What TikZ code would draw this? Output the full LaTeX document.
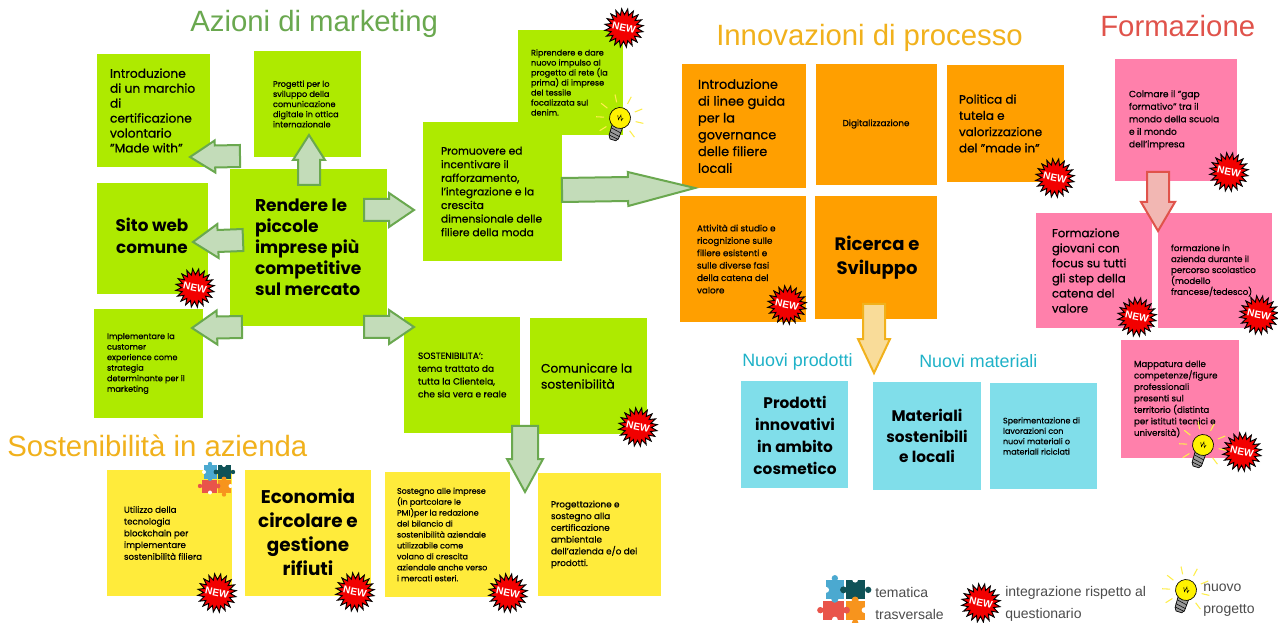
\documentclass[tikz,border=0pt]{standalone}
\usepackage{fontspec}
\setmainfont{Poppins}[UprightFeatures={FakeBold=0.7},BoldFeatures={FakeBold=0}]
\newfontfamily\titlefont{Liberation Sans}
\usetikzlibrary{shapes.geometric,shapes.misc,calc,arrows.meta}
\definecolor{cgreen}{HTML}{AEEA00}
\definecolor{corange}{HTML}{FF9F00}
\definecolor{cpink}{HTML}{FF80AB}
\definecolor{cblue}{HTML}{80DEEA}
\definecolor{cyellow}{HTML}{FFEB3B}
\definecolor{tgreen}{HTML}{6AA84F}
\definecolor{torange}{HTML}{F1B11C}
\definecolor{tred}{HTML}{E0534B}
\definecolor{tcyan}{HTML}{1FB2C8}
\definecolor{pzblue}{HTML}{4BA9D0}
\definecolor{pzteal}{HTML}{0F5257}
\definecolor{pzred}{HTML}{E9544A}
\definecolor{pzorange}{HTML}{F7941D}
\newcommand{\fs}[1]{\fontsize{#1}{#1}\selectfont}
\tikzset{
  card/.style={inner sep=0pt,outer sep=0pt,text=black,align=left},
  titletext/.style={inner sep=0pt,font=\titlefont\fs{22}},
  subtitle/.style={inner sep=0pt,font=\titlefont\fs{13.4},text=tcyan},
  legendtext/.style={inner sep=0pt,align=left,font=\titlefont\fontsize{10.5}{13.5}\selectfont,text=black!70},
  greenarrow/.style={draw=tgreen,line width=1.5pt,fill=tgreen!40!white,line join=miter},
  goldarrow/.style={draw=torange,line width=1.5pt,fill=torange!45!white},
  redarrow/.style={draw=tred,line width=1.5pt,fill=tred!42!white},
}
% card: name, x1, y1, x2, y2, colour, text x (px), font pt, leading, text
\newcommand{\card}[9]{%
  \fill[#6] (#2,#3) rectangle (#4,#5);
  \node[card,anchor=west,font=\fontsize{#8}{#9}\selectfont] (#1) at (#7,{(#3+#5)/2}) {\cardtext};}
\newcommand{\bcard}[9]{%
  \fill[#6] (#2,#3) rectangle (#4,#5);
  \node[card,anchor=west,font=\bfseries\fontsize{#8}{#9}\selectfont] (#1) at (#7,{(#3+#5)/2}) {\cardtext};}
\newcommand{\ccard}[9]{%
  \fill[#6] (#2,#3) rectangle (#4,#5);
  \node[card,align=center,font=\fontsize{#8}{#9}\selectfont] (#1) at (#7) {\cardtext};}
\newcommand{\hcard}[9]{%
  \fill[#6] (#2,#3) rectangle (#4,#5);
  \node[card,align=center,font=\bfseries\fontsize{#8}{#9}\selectfont] (#1) at (#7) {\cardtext};}
\newcommand{\blockarrow}[6]{% style, from, to, shaft half, head half, head length
  \pgfpointdiff{\pgfpointanchor{#2}{center}}{\pgfpointanchor{#3}{center}}%
  \pgfgetlastxy{\bax}{\bay}%
  \pgfmathsetmacro{\baang}{atan2(\bay,\bax)}%
  \pgfmathsetmacro{\balen}{veclen(\bax,\bay)/0.75}%
  \begin{scope}[shift={(#2)},rotate=\baang]
    \draw[#1] (0,-#4) -- ({\balen-#6},-#4) -- ({\balen-#6},-#5) -- (\balen,0) -- ({\balen-#6},#5) -- ({\balen-#6},#4) -- (0,#4) -- cycle;
  \end{scope}}
% NEW burst at a centre
\newcommand{\newburst}[2]{%
  \begin{scope}[shift={(#1,#2)}]
    \node[star,star points=20,star point ratio=1.45,minimum size=29pt,inner sep=0pt,fill=red!95!black,draw=black,line width=0.7pt,rotate=7] at (0,0) {};
    \node[inner sep=0pt,text=white,rotate=-12,font=\titlefont\bfseries\fs{7.6}] at (0,0) {NEW};
  \end{scope}}
% bulb at the centre of the glass
\newcommand{\bulb}[2]{%
  \begin{scope}[shift={(#1,#2)},rotate=-18]
    \foreach \a in {-50,-15,20,60,100,140,175,215}{
      \draw[yellow!90!orange!70!white,line width=0.8pt] (\a:-16) -- (\a:-24);}
    \fill[black!40,draw=black,line width=0.5pt] (-5.5,8) -- (5.5,8) -- (5,20) -- (3,23) -- (-3,23) -- (-5,20) -- cycle;
    \draw[black,line width=0.4pt] (-5.5,12) -- (5.5,14) (-5.5,16) -- (5.5,18) (-5,19.5) -- (5,21);
    \fill[yellow,draw=black,line width=0.5pt] (0,0) circle (10.5);
    \draw[black,line width=0.4pt] (-3,-2) -- (-1,2) -- (0,-3) -- (2,2) -- (3,-1);
  \end{scope}}
% puzzle at centre
\newcommand{\puzzle}[3]{%
  \begin{scope}[shift={(#1,#2)},scale=#3]
    \fill[pzblue] (-13,-14) rectangle (-0.5,-0.5);
    \fill[pzteal] (0.5,-14) rectangle (14,-0.5);
    \fill[pzred] (-15,0.5) rectangle (-0.5,13.5);
    \fill[pzorange] (0.5,0.5) rectangle (13.5,13.5);
    \fill[pzblue] (-7,-15) circle (2.2) (-7,-0.5) circle (2.4);
    \fill[pzteal] (-1,-7) circle (2.4) (16,-7) circle (2.2);
    \fill[pzred] (-17,7) circle (2.2) (1,7) circle (2.4);
    \fill[pzorange] (7,0) circle (2.4) (7,15.5) circle (2.2);
    \fill[white] (-13,-7) circle (2) (7,-14) circle (2) (-7,13.5) circle (2) (13.5,7) circle (2);
  \end{scope}}
\begin{document}
\begin{tikzpicture}[x=0.75pt,y=-0.75pt]
\useasboundingbox (0,0) rectangle (1278,623);
\fill[white] (0,0) rectangle (1278,623);
% titles
\node[titletext,text=tgreen,anchor=west] (t1) at (190,24) {Azioni di marketing};
\node[titletext,text=torange,anchor=west] (t2) at (716,38) {Innovazioni di processo};
\node[titletext,text=tred,anchor=west] (t3) at (1100,26) {Formazione};
\node[titletext,text=torange,anchor=west] (t4) at (7,446) {Sostenibilità in azienda};
\node[subtitle,anchor=west] (t5) at (742,362) {Nuovi prodotti};
\node[subtitle,anchor=west] (t6) at (919,361) {Nuovi materiali};
% green
\def\cardtext{Introduzione\\di un marchio\\di\\certificazione\\volontario\\"Made with"}
\card{a}{97}{54}{210}{167}{cgreen}{110}{9.2}{11.2}
\def\cardtext{Progetti per lo\\sviluppo della\\comunicazione\\digitale in ottica\\internazionale}
\card{b}{254}{51}{361}{157}{cgreen}{273}{6.1}{7.6}
\def\cardtext{Sito web\\comune}
\hcard{c}{97}{183}{208}{294}{cgreen}{152,236}{12.6}{16.5}
\def\cardtext{Rendere le\\piccole\\imprese più\\competitive\\sul mercato}
\bcard{d}{230}{169}{387}{326}{cgreen}{255}{12.8}{15.8}
\def\cardtext{Implementare la\\customer\\experience come\\strategia\\determinante per il\\marketing}
\card{e}{94}{309}{203}{418}{cgreen}{107}{6.1}{7.9}
\def\cardtext{Promuovere ed\\incentivare il\\rafforzamento,\\l'integrazione e la\\crescita\\dimensionale delle\\filiere della moda}
\card{f}{423}{122}{562}{261}{cgreen}{441}{8}{10.2}
\def\cardtext{Riprendere e dare\\nuovo impulso al\\progetto di rete (la\\prima) di imprese\\del tessile\\focalizzata sul\\denim.}
\card{g}{518}{30}{623}{135}{cgreen}{531}{6.1}{7.5}
\def\cardtext{SOSTENIBILITA':\\tema trattato da\\tutta la Clientela,\\che sia vera e reale}
\card{h}{404}{317}{520}{433}{cgreen}{418}{6.8}{9.6}
\def\cardtext{Comunicare la\\sostenibilità}
\card{i}{530}{318}{647}{434}{cgreen}{541}{9.2}{12}
% orange
\def\cardtext{Introduzione\\di linee guida\\per la\\governance\\delle filiere\\locali}
\card{oa}{682}{64}{806}{188}{corange}{698}{9.7}{12.6}
\def\cardtext{Digitalizzazione}
\ccard{ob}{816}{64}{937}{185}{corange}{876,124}{6.6}{8}
\def\cardtext{Politica di\\tutela e\\valorizzazione\\del "made in"}
\card{oc}{947}{65}{1064}{182}{corange}{959}{9}{12.2}
\def\cardtext{Attività di studio e\\ricognizione sulle\\filiere esistenti e\\sulle diverse fasi\\della catena del\\valore}
\card{od}{680}{196}{806}{322}{corange}{697}{6.6}{9.3}
\def\cardtext{Ricerca e\\Sviluppo}
\hcard{oe}{815}{196}{937}{319}{corange}{877,258}{13.5}{18}
% pink
\def\cardtext{Colmare il "gap\\formativo" tra il\\mondo della scuola\\e il mondo\\dell'impresa}
\card{pa}{1115}{59}{1237}{181}{cpink}{1129}{6.8}{9.4}
\def\cardtext{Formazione\\giovani con\\focus su tutti\\gli step della\\catena del\\valore}
\card{pb}{1036}{213}{1152}{328}{cpink}{1052}{8.7}{11.3}
\def\cardtext{formazione in\\azienda durante il\\percorso scolastico\\(modello\\francese/tedesco)}
\card{pc}{1158}{213}{1272}{328}{cpink}{1171}{6.5}{8.2}
\def\cardtext{Mappatura delle\\competenze/figure\\professionali\\presenti sul\\territorio (distinta\\per istituti tecnici e\\università)}
\card{pd}{1121}{340}{1239}{458}{cpink}{1134}{6.5}{8.6}
% blue
\def\cardtext{Prodotti\\innovativi\\in ambito\\cosmetico}
\hcard{ba}{741}{381}{848}{488}{cblue}{795,435}{11.5}{16.5}
\def\cardtext{Materiali\\sostenibili\\e locali}
\hcard{bb}{873}{382}{981}{490}{cblue}{927,436}{11.5}{15.5}
\def\cardtext{Sperimentazione di\\lavorazioni con\\nuovi materiali o\\materiali riciclati}
\card{bc}{990}{383}{1097}{489}{cblue}{1003}{6}{7.8}
% yellow
\def\cardtext{Utilizzo della\\tecnologia\\blockchain per\\implementare\\sostenibilità filiera}
\card{ya}{107}{470}{232}{596}{cyellow}{124}{6.5}{8.8}
\def\cardtext{Economia\\circolare e\\gestione\\rifiuti}
\hcard{yb}{245}{470}{371}{596}{cyellow}{308,532}{13.8}{18}
\def\cardtext{Sostegno alle imprese\\(in partcolare le\\PMI)per la redazione\\del bilancio di\\sostenibilità aziendale\\utilizzabile come\\volano di crescita\\aziendale anche verso\\i mercati esteri.}
\card{yc}{385}{472}{510}{597}{cyellow}{397}{6}{8.2}
\def\cardtext{Progettazione e\\sostegno alla\\certificazione\\ambientale\\dell'azienda e/o dei\\prodotti.}
\card{yd}{538}{473}{661}{596}{cyellow}{551}{6.6}{8.8}
% arrow end points
\coordinate (a1t) at (240,156); \coordinate (a1h) at (190,157);
\coordinate (a2t) at (309,185); \coordinate (a2h) at (309,135);
\coordinate (a3t) at (364,210); \coordinate (a3h) at (414,210);
\coordinate (a4t) at (243,240); \coordinate (a4h) at (193,242);
\coordinate (a5t) at (242,327); \coordinate (a5h) at (192,328);
\coordinate (a6t) at (364,327); \coordinate (a6h) at (414,327);
\coordinate (a7t) at (562,190); \coordinate (a7h) at (695,188);
\coordinate (a8t) at (525,426); \coordinate (a8h) at (525,492);
\coordinate (a9t) at (874,304); \coordinate (a9h) at (874,373);
\coordinate (a10t) at (1158,172); \coordinate (a10h) at (1158,231);
\blockarrow{greenarrow}{a1t}{a1h}{11}{16}{25}
\blockarrow{greenarrow}{a2t}{a2h}{11}{16}{25}
\blockarrow{greenarrow}{a3t}{a3h}{11}{17}{25}
\blockarrow{greenarrow}{a4t}{a4h}{11}{17}{25}
\blockarrow{greenarrow}{a5t}{a5h}{11}{17}{25}
\blockarrow{greenarrow}{a6t}{a6h}{11}{17}{25}
\blockarrow{greenarrow}{a7t}{a7h}{12}{17}{67}
\blockarrow{greenarrow}{a8t}{a8h}{13}{18}{33}
\blockarrow{goldarrow}{a9t}{a9h}{11}{16}{34}
\blockarrow{redarrow}{a10t}{a10h}{11}{17}{29}
% markers
\newburst{624}{28}
\newburst{195}{288}
\newburst{1055}{178}
\newburst{787}{305}
\newburst{1229}{172}
\newburst{1137}{317}
\newburst{1259}{315}
\newburst{1242}{452}
\newburst{638}{427}
\newburst{217}{593}
\newburst{355}{592}
\newburst{508}{593}
\newburst{981}{603}
\bulb{620}{118}
\bulb{1203}{445}
\bulb{1186}{590}
\puzzle{217}{479}{1}
\puzzle{845}{600}{1.45}
% legend
\node[legendtext,anchor=west] (l1) at (875,603) {tematica\\[3pt]trasversale};
\node[legendtext,anchor=west] (l2) at (1005,604) {integrazione rispetto al\\[3pt]questionario};
\node[legendtext,anchor=west] (l3) at (1203,600) {nuovo\\[3pt]progetto};
\end{tikzpicture}
\end{document}
